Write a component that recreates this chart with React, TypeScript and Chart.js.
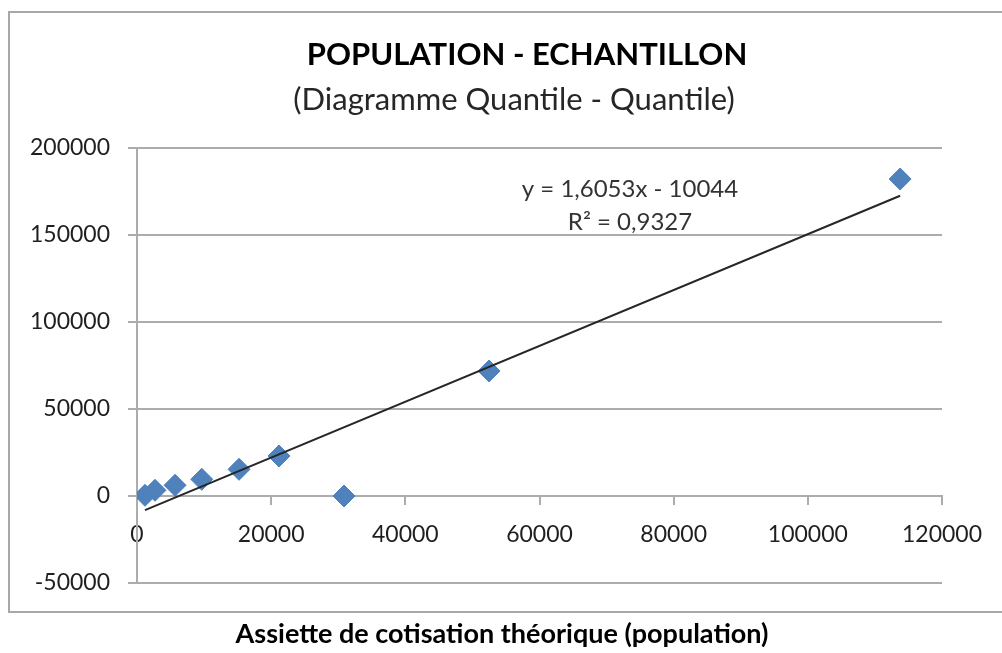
import React, { useEffect, useRef } from "react";
import { Chart, registerables } from "chart.js";

Chart.register(...registerables);

// Quantiles
const populationQuantiles = [1190, 2680, 5670, 9650, 15210, 21170, 30860, 52480, 113760];
const sampleQuantiles = [400, 3280, 6150, 9600, 15340, 22990, 0, 71840, 182180];

// Axis ranges / ticks
const xTickValues = [0, 20000, 40000, 60000, 80000, 100000, 120000];
const yTickValues = [-50000, 0, 50000, 100000, 150000, 200000];

// Linear trendline shown on the chart
const trendSlope = 1.6053;
const trendIntercept = -10044;
const equationLines = ["y = 1,6053x - 10044", "R² = 0,9327"];

const chartTitle = "POPULATION - ECHANTILLON";
const chartSubtitle = "(Diagramme Quantile - Quantile)";
const xAxisTitle = "Assiette de cotisation théorique (population)";

const FONT = "Lato, 'Open Sans', sans-serif";
const GRID = "#acacac";

const decorPlugin = {
  id: "decor",
  beforeDraw(chart: any) {
    const ctx = chart.ctx;
    ctx.save();
    ctx.fillStyle = "#ffffff";
    ctx.fillRect(0, 0, chart.width, chart.height);
    ctx.strokeStyle = "#a8a8a8";
    ctx.lineWidth = 2;
    ctx.beginPath();
    ctx.moveTo(chart.width + 2, 12);
    ctx.lineTo(9, 12);
    ctx.lineTo(9, 612);
    ctx.lineTo(chart.width + 2, 612);
    ctx.stroke();
    ctx.restore();
  },
  afterDraw(chart: any) {
    const ctx = chart.ctx;
    ctx.save();
    ctx.textAlign = "center";
    ctx.textBaseline = "middle";
    ctx.fillStyle = "#000000";
    ctx.font = `bold 31px ${FONT}`;
    ctx.fillText(chartTitle, 527, 55);
    ctx.fillStyle = "#262626";
    ctx.font = `31px ${FONT}`;
    ctx.fillText(chartSubtitle, 514, 100);
    ctx.fillStyle = "#333333";
    ctx.font = `24px ${FONT}`;
    ctx.fillText(equationLines[0], 630, 189);
    ctx.fillText(equationLines[1], 630, 222);
    ctx.fillStyle = "#000000";
    ctx.font = `bold 27px ${FONT}`;
    ctx.fillText(xAxisTitle, 502, 634);
    ctx.restore();
  },
};

export default function App() {
  const canvasRef = useRef<HTMLCanvasElement | null>(null);

  useEffect(() => {
    const canvas = canvasRef.current;
    if (!canvas) return;
    const points = populationQuantiles.map((x, i) => ({ x, y: sampleQuantiles[i] }));
    const xMin = Math.min(...populationQuantiles);
    const xMax = Math.max(...populationQuantiles);
    const trend = [xMin, xMax].map((x) => ({ x, y: trendSlope * x + trendIntercept }));

    const chart = new Chart(canvas, {
      type: "scatter",
      data: {
        datasets: [
          {
            label: "Linéaire",
            data: trend,
            showLine: true,
            borderColor: "#262626",
            borderWidth: 2,
            pointRadius: 0,
            order: 0,
          },
          {
            label: "Quantiles",
            data: points,
            pointStyle: "rectRot",
            pointRadius: 11,
            backgroundColor: "#4F81BD",
            borderColor: "#4F81BD",
            borderWidth: 1,
            order: 1,
          },
        ],
      },
      options: {
        animation: false,
        responsive: false,
        devicePixelRatio: 1,
        layout: { padding: { left: 0, top: 148, right: 60, bottom: 70 } },
        plugins: {
          legend: { display: false },
          tooltip: { enabled: false },
          title: { display: false },
        },
        scales: {
          x: {
            type: "linear",
            position: { y: 0 } as any,
            min: xTickValues[0],
            max: xTickValues[xTickValues.length - 1],
            afterBuildTicks: (scale: any) => {
              scale.ticks = xTickValues.map((v) => ({ value: v }));
            },
            ticks: {
              autoSkip: false,
              maxRotation: 0,
              padding: 17,
              color: "#1f1f1f",
              font: { family: FONT, size: 23 },
              callback: (v: any) => String(v),
            },
            grid: {
              drawOnChartArea: false,
              drawTicks: true,
              tickLength: 8,
              color: GRID,
              lineWidth: 2,
            },
            border: { display: true, color: GRID, width: 2 },
          },
          y: {
            type: "linear",
            position: "left",
            min: yTickValues[0],
            max: yTickValues[yTickValues.length - 1],
            afterBuildTicks: (scale: any) => {
              scale.ticks = yTickValues.map((v) => ({ value: v }));
            },
            afterFit: (scale: any) => {
              scale.width = 137;
            },
            ticks: {
              autoSkip: false,
              padding: 18,
              color: "#1f1f1f",
              font: { family: FONT, size: 23 },
              callback: (v: any) => String(v),
            },
            grid: {
              drawTicks: true,
              tickLength: 9,
              color: GRID,
              lineWidth: 2,
            },
            border: { display: true, color: GRID, width: 2 },
          },
        },
      },
      plugins: [decorPlugin],
    });
    return () => chart.destroy();
  }, []);

  return (
    <div style={{ position: "fixed", left: 0, top: 0, width: 1002, height: 653, background: "#fff" }}>
      <canvas ref={canvasRef} width={1002} height={653} style={{ display: "block", width: 1002, height: 653 }} />
    </div>
  );
}
